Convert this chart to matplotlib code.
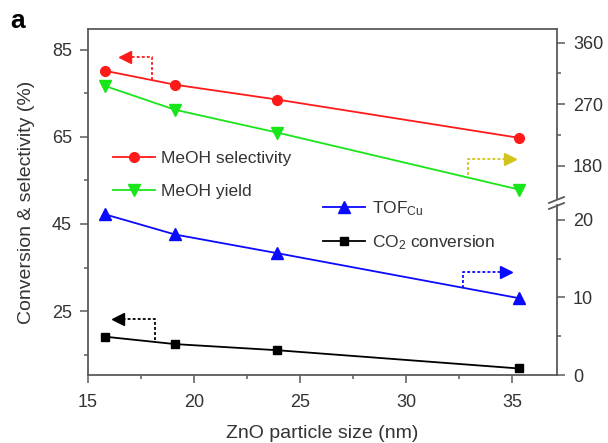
import matplotlib
matplotlib.use("Agg")
import matplotlib.pyplot as plt
from matplotlib.ticker import FixedLocator
from matplotlib.lines import Line2D

plt.rcParams['font.family'] = ['Liberation Sans', 'DejaVu Sans']
plt.rcParams['mathtext.fontset'] = 'custom'
plt.rcParams['mathtext.rm'] = 'Liberation Sans'
plt.rcParams['mathtext.it'] = 'Liberation Sans:italic'

# ZnO particle size (nm)
size = [15.8, 19.1, 23.9, 35.3]
# left axis (%)
selectivity = [80.2, 77.0, 73.6, 64.8]
co2_conv = [19.1, 17.4, 16.0, 11.8]
# right axis, upper part
meoh_yield = [296.6, 261.7, 228.4, 144.9]
# right axis, lower part
tof_cu = [20.7, 18.1, 15.7, 9.9]

spine_c = '#5a5a5a'
text_c = '#333333'

W, H = 608, 443
fig = plt.figure(figsize=(6.08, 4.43), dpi=100)

def frac(x0, x1, y_top, y_bot):
    return [x0 / W, 1 - y_bot / H, (x1 - x0) / W, (y_bot - y_top) / H]

ax = fig.add_axes(frac(88, 557, 29, 375))
ax_lo = fig.add_axes(frac(88, 557, 205, 375), sharex=ax)
ax_hi = fig.add_axes(frac(88, 557, 29, 199), sharex=ax)

ax.set_xlim(15, 37.1)
ax.set_ylim(10.3, 89.8)
ax_lo.set_ylim(0, 21.9)
ax_hi.set_ylim(131, 380)

for a in (ax, ax_lo, ax_hi):
    for s in a.spines.values():
        s.set_color(spine_c)
        s.set_linewidth(1.3)
    a.tick_params(which='both', direction='out', color=spine_c, width=1.1,
                  labelsize=13, labelcolor=text_c, pad=6)
    a.tick_params(which='major', length=5.5)
    a.tick_params(which='minor', length=3)

ax.tick_params(axis='x', pad=8)
ax.spines['right'].set_visible(False)
ax.xaxis.set_major_locator(FixedLocator([15, 20, 25, 30, 35]))
ax.xaxis.set_minor_locator(FixedLocator([17.5, 22.5, 27.5, 32.5]))
ax.yaxis.set_major_locator(FixedLocator([25, 45, 65, 85]))
ax.yaxis.set_minor_locator(FixedLocator([15, 35, 55, 75]))

for a in (ax_lo, ax_hi):
    a.patch.set_visible(False)
    for side in ('left', 'top', 'bottom'):
        a.spines[side].set_visible(False)
    a.xaxis.set_visible(False)
    a.yaxis.tick_right()

ax_lo.yaxis.set_major_locator(FixedLocator([0, 10, 20]))
ax_lo.yaxis.set_minor_locator(FixedLocator([5, 15]))
ax_hi.yaxis.set_major_locator(FixedLocator([180, 270, 360]))
ax_hi.yaxis.set_minor_locator(FixedLocator([225, 315]))

red, green, blue, black = '#ff1a1a', '#19e619', '#0a0aff', '#000000'

l1, = ax.plot(size, selectivity, '-o', color=red, lw=1.3, ms=7)
l4, = ax.plot(size, co2_conv, '-s', color=black, lw=1.3, ms=6)
l2, = ax_hi.plot(size, meoh_yield, '-v', color=green, lw=1.3, ms=8.5)
l3, = ax_lo.plot(size, tof_cu, '-^', color=blue, lw=1.3, ms=8.5)

# dotted arrows telling which axis each curve belongs to
def axis_arrow(x0, y0, y1, x_tip, color, head):
    ax.plot([x0, x0, x_tip], [y0, y1, y1], color=color, lw=1.3,
            linestyle=(0, (1.6, 1.2)))
    ax.plot([x_tip], [y1], marker=head, color=color, ms=9, mec=color)

axis_arrow(18.0, 78.1, 83.4, 16.75, red, '<')
axis_arrow(18.15, 18.3, 23.2, 16.4, black, '<')
axis_arrow(32.9, 56.3, 59.9, 34.9, '#d2c41c', '>')
axis_arrow(32.65, 30.3, 34.0, 34.7, blue, '>')

leg1 = ax.legend([l1, l2], ['MeOH selectivity', 'MeOH yield'],
                 loc='upper left', bbox_to_anchor=(0.053, 0.648),
                 frameon=False, fontsize=12.5, handlelength=2.4,
                 handletextpad=0.4, labelspacing=1.03, borderpad=0,
                 borderaxespad=0)
for t in leg1.get_texts():
    t.set_color(text_c)
ax.add_artist(leg1)
leg2 = ax.legend([l3, l4], [r'TOF$_{\mathrm{Cu}}$', r'CO$_{2}$ conversion'],
                 loc='upper left', bbox_to_anchor=(0.501, 0.508),
                 frameon=False, fontsize=12.5, handlelength=2.4,
                 handletextpad=0.4, labelspacing=0.89, borderpad=0,
                 borderaxespad=0)
for t in leg2.get_texts():
    t.set_color(text_c)

ax.set_xlabel('ZnO particle size (nm)', fontsize=14, color=text_c, labelpad=10)
ax.set_ylabel('Conversion & selectivity (%)', fontsize=14, color=text_c,
              labelpad=12)

# break marks on the right axis
for dy in (0, 6):
    fig.add_artist(Line2D([549 / W, 564 / W],
                          [1 - (209 - dy) / H, 1 - (203 - dy) / H],
                          color=spine_c, lw=1.3))

fig.text(10 / W, 1 - 28 / H, 'a', fontsize=19, fontweight='bold')

fig.savefig('out.png', dpi=100)
